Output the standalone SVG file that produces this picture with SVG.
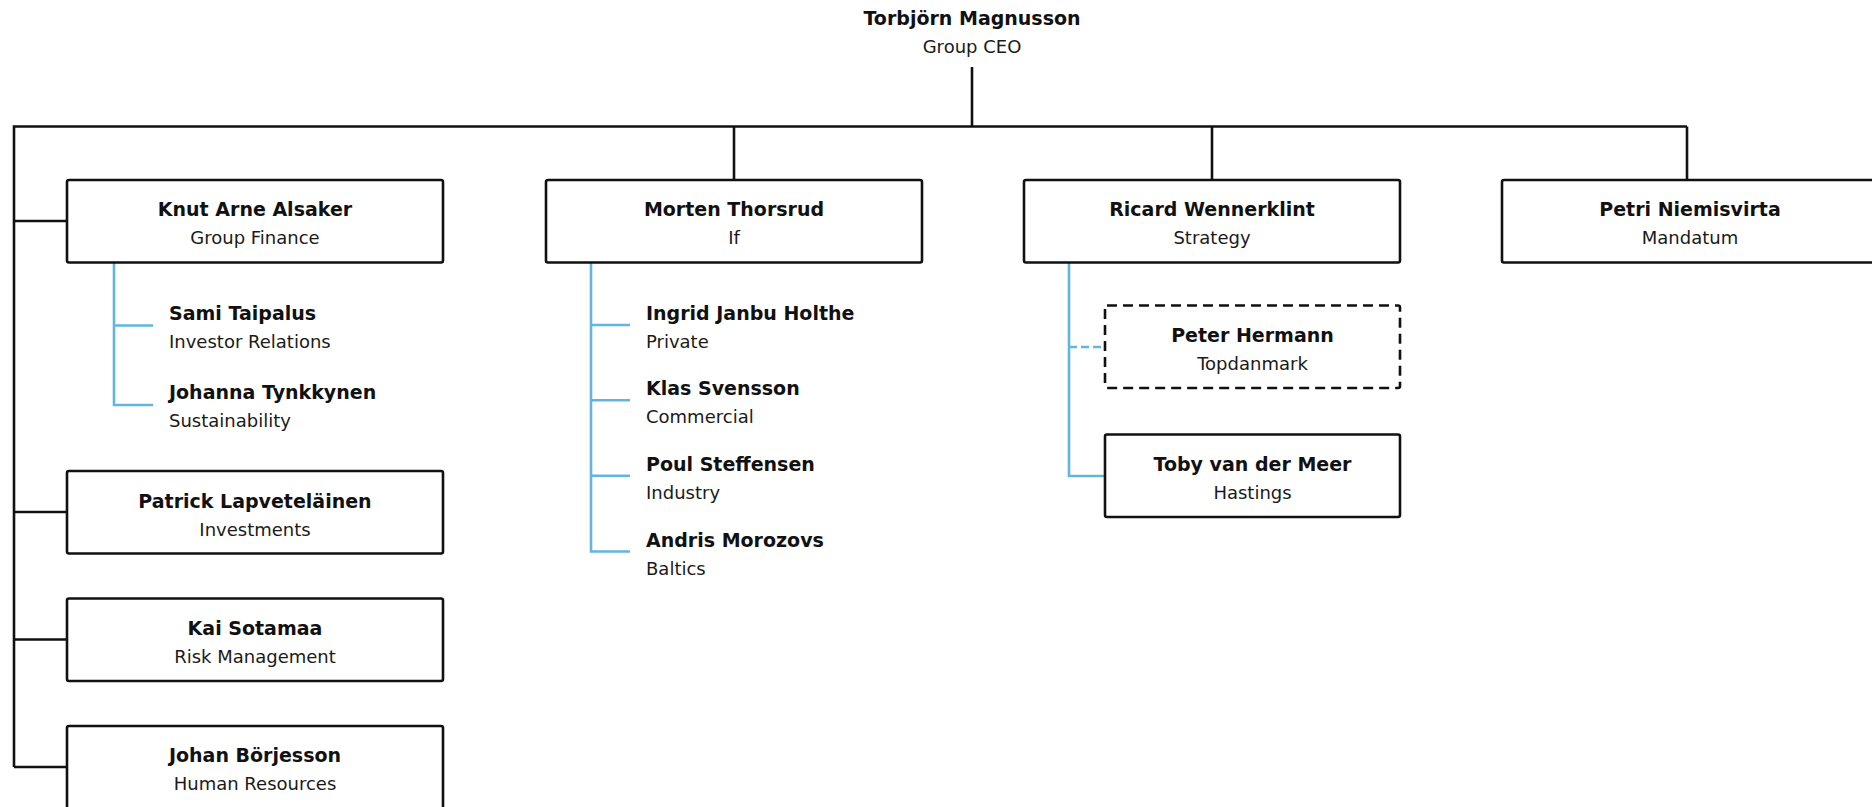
<svg xmlns="http://www.w3.org/2000/svg" width="1872" height="807" viewBox="0 0 1872 807">
<style>
.bg{fill:#ffffff}
.box{fill:#ffffff;stroke:#111111;stroke-width:2.6}
.dbox{fill:#ffffff;stroke:#111111;stroke-width:2.6;stroke-dasharray:10 6}
.ln{fill:none;stroke:#111111;stroke-width:2.6}
.bl{fill:none;stroke:#62b6dd;stroke-width:2.6}
.bld{fill:none;stroke:#62b6dd;stroke-width:2.6;stroke-dasharray:8 4}
.n{font-family:"DejaVu Sans","Liberation Sans",sans-serif;font-weight:bold;font-size:19px;fill:#111111}
.r{font-family:"DejaVu Sans","Liberation Sans",sans-serif;font-size:18px;fill:#1a1a1a}
.c{text-anchor:middle}
</style>
<rect class="bg" x="0" y="0" width="1872" height="807"/>
<g id="connectors">
<path class="ln" d="M972 67 V126.5"/>
<path class="ln" d="M14 767 V126.5 H1687"/>
<path class="ln" d="M734 126.5 V180"/>
<path class="ln" d="M1212 126.5 V180"/>
<path class="ln" d="M1687 126.5 V180"/>
<path class="ln" d="M14 221 H67 M14 512 H67 M14 639.5 H67 M14 767 H67"/>
<path class="bl" d="M114 263 V405 H153 M114 325.5 H153"/>
<path class="bl" d="M591 263 V551.5 H630 M591 325 H630 M591 400.3 H630 M591 475.7 H630"/>
<path class="bl" d="M1069 263 V476 H1105"/>
<path class="bld" d="M1069 347 H1105"/>
</g>
<g id="ceo">
<text class="n c" x="972" y="25">Torbjörn Magnusson</text>
<text class="r c" x="972" y="53">Group CEO</text>
</g>
<g id="knut">
<rect class="box" x="67" y="180" width="376" height="82.5" rx="2"/>
<text class="n c" x="255" y="216">Knut Arne Alsaker</text>
<text class="r c" x="255" y="244">Group Finance</text>
</g>
<g id="sami">
<text class="n" x="169" y="320">Sami Taipalus</text>
<text class="r" x="169" y="348">Investor Relations</text>
</g>
<g id="johanna">
<text class="n" x="169" y="399">Johanna Tynkkynen</text>
<text class="r" x="169" y="427">Sustainability</text>
</g>
<g id="morten">
<rect class="box" x="546" y="180" width="376" height="82.5" rx="2"/>
<text class="n c" x="734" y="216">Morten Thorsrud</text>
<text class="r c" x="734" y="244">If</text>
</g>
<g id="ingrid">
<text class="n" x="646" y="320">Ingrid Janbu Holthe</text>
<text class="r" x="646" y="348">Private</text>
</g>
<g id="klas">
<text class="n" x="646" y="395">Klas Svensson</text>
<text class="r" x="646" y="423">Commercial</text>
</g>
<g id="poul">
<text class="n" x="646" y="470.5">Poul Steffensen</text>
<text class="r" x="646" y="499">Industry</text>
</g>
<g id="andris">
<text class="n" x="646" y="546.5">Andris Morozovs</text>
<text class="r" x="646" y="575">Baltics</text>
</g>
<g id="ricard">
<rect class="box" x="1024" y="180" width="376" height="82.5" rx="2"/>
<text class="n c" x="1212" y="216">Ricard Wennerklint</text>
<text class="r c" x="1212" y="244">Strategy</text>
</g>
<g id="peter">
<rect class="dbox" x="1105" y="305.5" width="295" height="82.5" rx="2"/>
<text class="n c" x="1252.5" y="342">Peter Hermann</text>
<text class="r c" x="1252.5" y="370">Topdanmark</text>
</g>
<g id="toby">
<rect class="box" x="1105" y="434.5" width="295" height="82.5" rx="2"/>
<text class="n c" x="1252.5" y="471">Toby van der Meer</text>
<text class="r c" x="1252.5" y="499">Hastings</text>
</g>
<g id="petri">
<rect class="box" x="1502" y="180" width="376" height="82.5" rx="2"/>
<text class="n c" x="1690" y="216">Petri Niemisvirta</text>
<text class="r c" x="1690" y="244">Mandatum</text>
</g>
<g id="patrick">
<rect class="box" x="67" y="471" width="376" height="82.5" rx="2"/>
<text class="n c" x="255" y="507.5">Patrick Lapveteläinen</text>
<text class="r c" x="255" y="535.5">Investments</text>
</g>
<g id="kai">
<rect class="box" x="67" y="598.5" width="376" height="82.5" rx="2"/>
<text class="n c" x="255" y="634.5">Kai Sotamaa</text>
<text class="r c" x="255" y="662.5">Risk Management</text>
</g>
<g id="johan">
<rect class="box" x="67" y="726" width="376" height="82.5" rx="2"/>
<text class="n c" x="255" y="762">Johan Börjesson</text>
<text class="r c" x="255" y="790">Human Resources</text>
</g>
</svg>
